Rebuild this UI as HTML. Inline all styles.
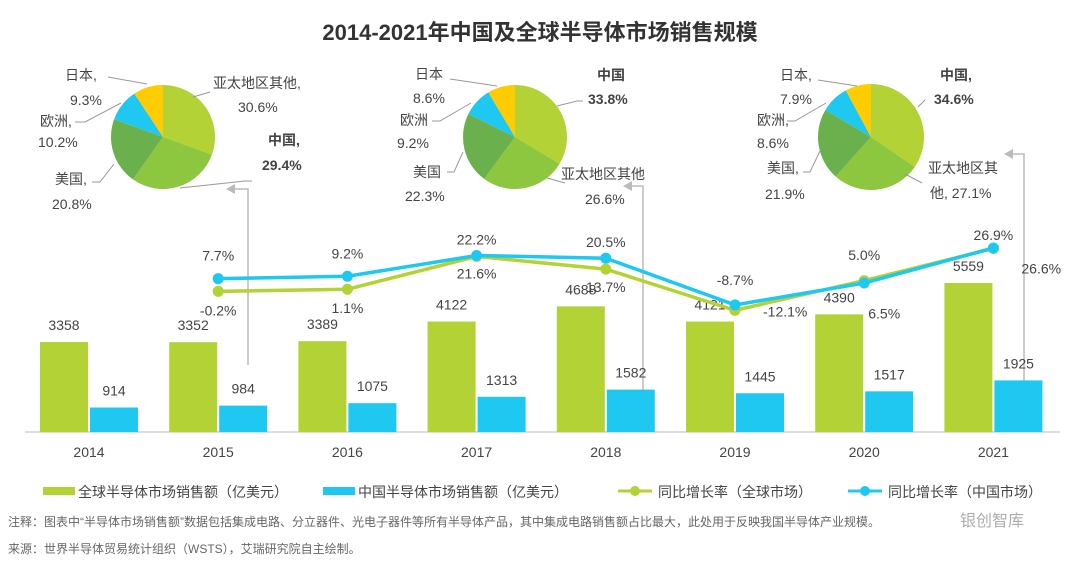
<!DOCTYPE html>
<html><head><meta charset="utf-8">
<style>
body{margin:0;background:#fff;}
svg{display:block;font-family:"Liberation Sans","Noto Sans CJK SC",sans-serif;}
</style></head>
<body>
<svg id="c" width="1080" height="566" viewBox="0 0 1080 566">
<text x="540" y="40" text-anchor="middle" font-size="22" font-weight="bold" fill="#333">2014-2021年中国及全球半导体市场销售规模</text>
<g id="pies"></g>
<g id="arrows" stroke="#bbb" stroke-width="1.5" fill="none">
<polyline points="248,365 248,189 228,189"/><path d="M226,189 l9,-5 v10z" fill="#bbb" stroke="none"/>
<polyline points="643,430 643,186 625,186"/><path d="M623,186 l9,-5 v10z" fill="#bbb" stroke="none"/>
<polyline points="1024,420 1024,154 1006,154"/><path d="M1004,154 l9,-5 v10z" fill="#bbb" stroke="none"/>
</g>
<line x1="25" y1="432" x2="1060" y2="432" stroke="#bbb" stroke-width="1"/>
<g id="bars"></g>
<g id="lines"></g>
<g id="legend" font-size="14" fill="#444">
<rect x="43" y="487" width="32" height="8" fill="#b2d235"/>
<text x="78" y="497">全球半导体市场销售额（亿美元）</text>
<rect x="323" y="487" width="32" height="8" fill="#1ec8f0"/>
<text x="358" y="497">中国半导体市场销售额（亿美元）</text>
<line x1="618" y1="491" x2="652" y2="491" stroke="#b2d235" stroke-width="3"/><circle cx="635" cy="491" r="5" fill="#b2d235"/>
<text x="658" y="497">同比增长率（全球市场）</text>
<line x1="848" y1="491" x2="882" y2="491" stroke="#1ec8f0" stroke-width="3"/><circle cx="865" cy="491" r="5" fill="#1ec8f0"/>
<text x="888" y="497">同比增长率（中国市场）</text>
</g>
<text x="8" y="526" font-size="12" fill="#666">注释：图表中“半导体市场销售额”数据包括集成电路、分立器件、光电子器件等所有半导体产品，其中集成电路销售额占比最大，此处用于反映我国半导体产业规模。</text>
<text x="8" y="553" font-size="12" fill="#666">来源：世界半导体贸易统计组织（WSTS），艾瑞研究院自主绘制。</text>
<text x="960" y="526" font-size="16" fill="#999" opacity="0.8">银创智库</text>
</svg>
<script>
const years=["2014","2015","2016","2017","2018","2019","2020","2021"];
const globalSales=[3358,3352,3389,4122,4688,4121,4390,5559];
const chinaSales=[914,984,1075,1313,1582,1445,1517,1925];
const globalGrowth=[null,-0.2,1.1,21.6,13.7,-12.1,6.5,26.6];
const chinaGrowth=[null,7.7,9.2,22.2,20.5,-8.7,5.0,26.9];
const pie1Values=[30.6,29.4,20.8,10.2,9.3];
const pie2Values=[33.8,26.6,22.3,9.2,8.6];
const pie3Values=[34.6,27.1,21.9,8.6,7.9];
const NS="http://www.w3.org/2000/svg";
const svg=document.getElementById('c');
function mk(tag,attrs,parent,txt){const e=document.createElementNS(NS,tag);for(const k in attrs)e.setAttribute(k,attrs[k]);if(txt!==undefined)e.textContent=txt;parent.appendChild(e);return e;}
const xC=i=>89+i*129.2;
const yB=v=>432-v*0.0268;
const yL=v=>291-v*1.6;
const bars=document.getElementById('bars');
years.forEach((y,i)=>{
 const cx=xC(i);
 let r=mk('rect',{x:cx-49,y:yB(globalSales[i]),width:48,height:432-yB(globalSales[i]),fill:'#b2d235'},bars);
 
 
 r=mk('rect',{x:cx+1,y:yB(chinaSales[i]),width:48,height:432-yB(chinaSales[i]),fill:'#1ec8f0'},bars);
 
 
 let t=mk('text',{x:cx-25,y:yB(globalSales[i])-12,'text-anchor':'middle','font-size':14,fill:'#444'},bars,String(globalSales[i]));
 
 
 t=mk('text',{x:cx+25,y:yB(chinaSales[i])-12,'text-anchor':'middle','font-size':14,fill:'#444'},bars,String(chinaSales[i]));
 
 
 t=mk('text',{x:cx,y:457,'text-anchor':'middle','font-size':14,fill:'#444'},bars,y);
 
 
});
const lines=document.getElementById('lines');
// label offsets (styling): [dx,dy,anchor]
const gOff=[null,[0,24,'middle'],[0,24,'middle'],[0,22,'middle'],[0,23,'middle'],[28,6,'start'],[20,38,'middle'],[28,25,'start']];
const cOff=[null,[0,-18,'middle'],[0,-18,'middle'],[0,-11,'middle'],[0,-11,'middle'],[0,-20,'middle'],[0,-23,'middle'],[0,-8,'middle']];
function drawLine(vals,color,name,off){
 const pts=[];vals.forEach((v,i)=>{if(v!==null)pts.push([xC(i),yL(v)]);});
 const pl=mk('polyline',{points:pts.map(p=>p.join(',')).join(' '),fill:'none',stroke:color,'stroke-width':3.5},lines);
 
 
 vals.forEach((v,i)=>{if(v===null)return;
  const c=mk('circle',{cx:xC(i),cy:yL(v),r:5.5,fill:color},lines);
  
  
  const o=off[i];
  const t=mk('text',{x:xC(i)+o[0],y:yL(v)+o[1],'text-anchor':o[2],'font-size':14,fill:'#444'},lines,v.toFixed(1)+'%');
  
  
 });
}
drawLine(globalGrowth,'#b2d235','global-growth',gOff);
drawLine(chinaGrowth,'#1ec8f0','china-growth',cOff);
const pieColors=['#b2d235','#8dc63f','#6ab04c','#1ec8f0','#ffcc00'];
const pies=document.getElementById('pies');
function drawPie(vals,cx,cy,r,name){
 const g=mk('g',{},pies);
 
 
 const tot=vals.reduce((a,b)=>a+b,0);let a=-Math.PI/2;
 vals.forEach((v,i)=>{const b=a+v/tot*2*Math.PI;
  const x1=cx+r*Math.cos(a),y1=cy+r*Math.sin(a),x2=cx+r*Math.cos(b),y2=cy+r*Math.sin(b);
  const p=mk('path',{d:`M${cx},${cy}L${x1},${y1}A${r},${r} 0 ${b-a>Math.PI?1:0} 1 ${x2},${y2}Z`,fill:pieColors[i]},g);
  
  
  a=b;});
}
drawPie(pie1Values,163,137,52,'pie-2014');
drawPie(pie2Values,515,137,52,'pie-2017');
drawPie(pie3Values,871,137,53,'pie-2021');
// pie labels
const pl=[
 [65,80,'日本,'],[70,105,'9.3%'],[40,126,'欧洲,'],[38,147,'10.2%'],[55,184,'美国,'],[52,209,'20.8%'],[213,88,'亚太地区其他,'],[238,112,'30.6%'],
 [415,79,'日本'],[413,103,'8.6%'],[400,125,'欧洲'],[397,148,'9.2%'],[413,177,'美国'],[405,201,'22.3%'],[561,179,'亚太地区其他'],[585,204,'26.6%'],
 [780,80,'日本,'],[780,104,'7.9%'],[757,125,'欧洲,'],[757,148,'8.6%'],[767,173,'美国,'],[765,199,'21.9%'],[928,173,'亚太地区其'],[930,198,'他, 27.1%']];
pl.forEach(d=>{const t=mk('text',{x:d[0],y:d[1],'font-size':14,fill:'#444'},pies,d[2]);
 
 });
const pb=[[268,145,'中国,'],[262,170,'29.4%'],[597,80,'中国'],[588,104,'33.8%'],[940,80,'中国,'],[934,104,'34.6%']];
pb.forEach(d=>{const t=mk('text',{x:d[0],y:d[1],'font-size':14,'font-weight':'bold',fill:'#444'},pies,d[2]);
 
 });
const lead=[[[147,84],[108,77]],[[121,103],[85,122],[75,122]],[[114,164],[100,182],[92,182]],[[193,97],[210,92]],[[180,188],[245,181],[252,181]],
 [[497,86],[450,79]],[[471,103],[440,121],[432,121]],[[463,152],[454,172],[447,172]],[[557,106],[577,101],[583,101]],[[547,178],[565,183]],
 [[857,86],[818,80]],[[826,103],[795,121],[787,121]],[[820,151],[810,172],[803,172]],[[918,107],[925,100]],[[905,174],[922,183]]];
lead.forEach(l=>{const p=mk('polyline',{points:l.map(q=>q.join(',')).join(' '),fill:'none',stroke:'#999','stroke-width':1},pies);
 
 });
</script>
</body></html>
